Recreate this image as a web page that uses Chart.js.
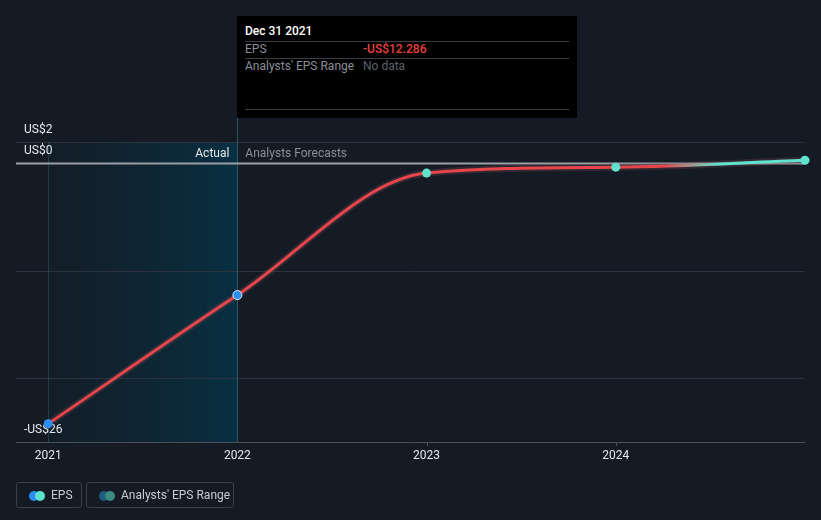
<!DOCTYPE html>
<html>
<head>
<meta charset="utf-8">
<script src="https://cdn.jsdelivr.net/npm/chart.js@4.4.1/dist/chart.umd.min.js"></script>
<style>
  html, body { margin:0; padding:0; background:#151b25; }
  #wrap { position:relative; width:821px; height:520px; font-family:Roboto, "Noto Sans", sans-serif; }
  canvas { position:absolute; left:0; top:0; }
  #tip { position:absolute; left:237px; top:16px; width:340px; height:102px; background:#000; }
  #tip .t { position:absolute; left:8px; font-size:12px; line-height:14px; }
  #tip .sep { position:absolute; left:8px; width:324px; height:1px; background:#3a3d44; }
  .lg { position:absolute; top:482px; height:26px; border:1px solid #3b404b; border-radius:3px; box-sizing:border-box; color:#c9ccd2; font-size:12px; }
  .lg .d { position:absolute; top:8px; width:10px; height:10px; border-radius:50%; }
  .lg span { position:absolute; top:5px; line-height:14px; }
</style>
</head>
<body>
<div id="wrap">
  <canvas id="c" width="821" height="520"></canvas>
  <div id="tip">
    <div class="t" style="top:8px;color:#fff;font-weight:500;">Dec 31 2021</div>
    <div class="sep" style="top:25px"></div>
    <div class="t" style="top:26px;color:#8a8e96;">EPS</div>
    <div class="t" style="top:26px;left:126px;color:#e8413f;font-weight:500;">-US$12.286</div>
    <div class="sep" style="top:42px"></div>
    <div class="t" style="top:43px;color:#8a8e96;">Analysts' EPS Range</div>
    <div class="t" style="top:43px;left:126px;color:#5d6169;">No data</div>
    <div class="sep" style="top:93px"></div>
  </div>
  <div class="lg" style="left:16px;width:66px;">
    <div class="d" style="left:12px;background:#2b8ff0;"></div>
    <div class="d" style="left:18px;background:#5fe3cf;"></div>
    <span style="left:34px;">EPS</span>
  </div>
  <div class="lg" style="left:86px;width:148px;">
    <div class="d" style="left:12px;background:#1f5a80;"></div>
    <div class="d" style="left:18px;background:#3c8a80;"></div>
    <span style="left:34px;">Analysts' EPS Range</span>
  </div>
</div>
<script>
const xYears = [2021, 2022, 2023, 2024, 2025];
const xTickLabels = ['2021', '2022', '2023', '2024'];
const epsValues = [-24.3, -12.286, -0.9, -0.35, 0.3];
const actualYears = [2021, 2022];
const actualEps = [-24.3, -12.286];
const forecastYears = [2023, 2024, 2025];
const forecastEps = [-0.9, -0.35, 0.3];
const yGridValues = [2, 0, -10, -20];
const yLabelValues = [2, 0, -26];
const yLabelText = ['US$2', 'US$0', '-US$26'];

const RED = '#e8454a', TEAL = '#5fe3cf', BLUE = '#2b8ff0';

const bgPlugin = {
  id: 'bg',
  beforeDatasetsDraw(chart) {
    const {ctx, chartArea: a, scales: {x, y}} = chart;
    ctx.save();
    const x0 = x.getPixelForValue(2021), x1 = x.getPixelForValue(2022);
    const g = ctx.createLinearGradient(x0, 0, x1, 0);
    g.addColorStop(0, 'rgba(14,40,52,0.25)');
    g.addColorStop(1, 'rgba(6,52,72,0.85)');
    ctx.fillStyle = g;
    ctx.fillRect(x0, y.getPixelForValue(2), x1 - x0, a.bottom - y.getPixelForValue(2));
    ctx.lineWidth = 1;
    yGridValues.forEach(v => {
      if (v === 0) return;
      const py = Math.round(y.getPixelForValue(v)) + 0.5;
      ctx.strokeStyle = '#2d333e';
      ctx.beginPath(); ctx.moveTo(a.left, py); ctx.lineTo(a.right, py); ctx.stroke();
    });
    const by = Math.round(a.bottom) + 0.5;
    ctx.strokeStyle = '#4a4f5a';
    ctx.beginPath(); ctx.moveTo(a.left, by); ctx.lineTo(a.right, by); ctx.stroke();
    ctx.strokeStyle = 'rgba(50,95,115,0.45)';
    ctx.beginPath();
    ctx.moveTo(Math.round(x0) + 0.5, y.getPixelForValue(2)); ctx.lineTo(Math.round(x0) + 0.5, a.bottom);
    ctx.stroke();
    ctx.strokeStyle = 'rgba(70,120,140,0.6)';
    ctx.beginPath();
    ctx.moveTo(Math.round(x1) + 0.5, 118); ctx.lineTo(Math.round(x1) + 0.5, a.bottom);
    ctx.stroke();
    ctx.strokeStyle = '#4a4f5a';
    [2023, 2024].forEach(v => {
      const px = Math.round(x.getPixelForValue(v)) + 0.5;
      ctx.beginPath(); ctx.moveTo(px, a.bottom); ctx.lineTo(px, a.bottom + 4); ctx.stroke();
    });
    const zy = y.getPixelForValue(0);
    ctx.strokeStyle = '#9a9ea6';
    ctx.lineWidth = 2;
    ctx.beginPath(); ctx.moveTo(a.left, zy); ctx.lineTo(a.right, zy); ctx.stroke();
    ctx.font = '12px Roboto, sans-serif';
    ctx.textBaseline = 'middle';
    ctx.fillStyle = '#e6e8ec';
    ctx.textAlign = 'left';
    yLabelValues.forEach((v, i) => {
      ctx.fillText(yLabelText[i], 24, y.getPixelForValue(v) - 12);
    });
    ctx.textAlign = 'right';
    ctx.fillText('Actual', x1 - 8, zy - 9);
    ctx.textAlign = 'left';
    ctx.fillStyle = '#8a8e96';
    ctx.fillText('Analysts Forecasts', x1 + 8, zy - 9);
    ctx.textAlign = 'center';
    ctx.fillStyle = '#e6e8ec';
    xTickLabels.forEach(t => {
      ctx.fillText(t, x.getPixelForValue(+t), a.bottom + 14);
    });
    ctx.restore();
  }
};

function lineColor(c) {
  const a = c.chart.chartArea;
  if (!a) return RED;
  const g = c.chart.ctx.createLinearGradient(a.left, 0, a.right, 0);
  g.addColorStop(0, RED);
  g.addColorStop(0.82, RED);
  g.addColorStop(0.89, TEAL);
  g.addColorStop(1, TEAL);
  return g;
}

new Chart(document.getElementById('c'), {
  type: 'line',
  data: {
    datasets: [
      {
        data: xYears.map((x, i) => ({x, y: epsValues[i]})),
        borderColor: lineColor,
        borderWidth: 3,
        pointRadius: 0,
        cubicInterpolationMode: 'monotone',
        order: 2
      },
      {
        data: xYears.map((x, i) => ({x, y: epsValues[i]})),
        borderColor: 'rgba(120,70,80,0.3)',
        borderWidth: 7,
        pointRadius: 0,
        cubicInterpolationMode: 'monotone',
        order: 3
      },
      {
        data: actualYears.map((x, i) => ({x, y: actualEps[i]})),
        showLine: false,
        pointRadius: 4.5,
        pointBackgroundColor: BLUE,
        pointBorderColor: '#dfe9f5',
        pointBorderWidth: [0, 1],
        order: 1
      },
      {
        data: forecastYears.map((x, i) => ({x, y: forecastEps[i]})),
        showLine: false,
        pointRadius: 4.5,
        pointBackgroundColor: TEAL,
        pointBorderWidth: 0,
        order: 1
      }
    ]
  },
  options: {
    responsive: false,
    animation: false,
    layout: { padding: { left: 16, right: 16, top: 142, bottom: 78 } },
    plugins: { legend: { display: false }, tooltip: { enabled: false } },
    scales: {
      x: { type: 'linear', display: false, min: 2020.83, max: 2025 },
      y: { type: 'linear', display: false, min: -26, max: 2 }
    },
    clip: false
  },
  plugins: [bgPlugin]
});
</script>
</body>
</html>
